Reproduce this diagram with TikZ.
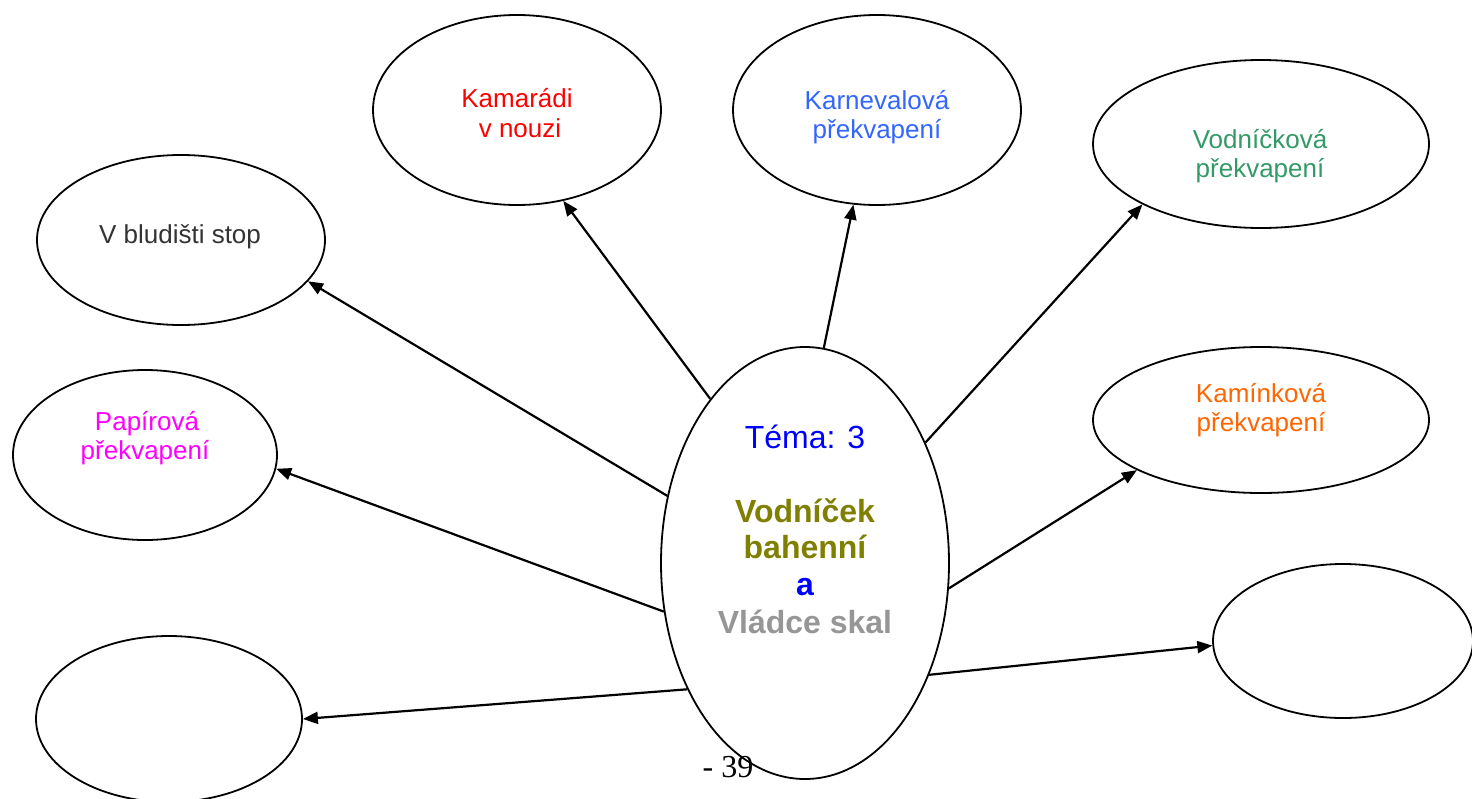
\documentclass[tikz,border=0pt]{standalone}
\usepackage{fontspec}
\setmainfont{Liberation Sans}
\newfontfamily\serifpage{Liberation Serif}
\usetikzlibrary{shapes.geometric,arrows.meta}
\definecolor{cRed}{HTML}{FF0000}
\definecolor{cKarn}{HTML}{3366FF}
\definecolor{cVodn}{HTML}{339966}
\definecolor{cDark}{HTML}{333333}
\definecolor{cMag}{HTML}{FF00FF}
\definecolor{cOrange}{HTML}{FF6600}
\definecolor{cBlue}{HTML}{0000FF}
\definecolor{cOlive}{HTML}{808000}
\definecolor{cGray}{HTML}{969696}
\tikzset{
  oval/.style={ellipse, draw=black, line width=1.8pt, inner sep=0pt},
  lbl/.style={anchor=base, inner sep=0pt, font=\fontsize{26}{30}\selectfont},
  big/.style={anchor=base, inner sep=0pt, font=\fontsize{32}{37}\selectfont},
  bigb/.style={anchor=base, inner sep=0pt, font=\fontsize{32}{37}\selectfont\bfseries},
  conn/.style={line width=2.2pt, -{Triangle[length=15pt,width=12pt]}}
}
\begin{document}
\begin{tikzpicture}[x=1pt,y=-1pt]
\useasboundingbox (0,0) rectangle (1472,798);
\fill[white] (0,0) rectangle (1472,798);

% page number (the central ellipse border passes over it)
\node[anchor=base, inner sep=0pt, font=\serifpage\fontsize{32}{36}\selectfont] (pg) at (728,777) {- 39};

% ellipses
\node[oval, minimum width=288pt, minimum height=432pt] (c) at (805,563) {};
\node[oval, minimum width=288pt, minimum height=190pt] (kam) at (517,110) {};
\node[oval, minimum width=288pt, minimum height=190pt] (karn) at (877,110) {};
\node[oval, minimum width=336pt, minimum height=168pt] (vodn) at (1261,144) {};
\node[oval, minimum width=288pt, minimum height=170pt] (blud) at (181,240) {};
\node[oval, minimum width=264pt, minimum height=170pt] (pap) at (145,455) {};
\node[oval, minimum width=336pt, minimum height=146pt] (kamin) at (1261,420) {};
\node[oval, minimum width=260pt, minimum height=154pt] (br) at (1343,641) {};
\node[oval, minimum width=266pt, minimum height=166pt] (bl) at (169,719) {};

% texts
\node[lbl, text=cRed] (t1a) at (517,107) {Kamarádi};
\node[lbl, text=cRed] (t1b) at (520,137) {v nouzi};
\node[lbl, text=cKarn] (t2a) at (877,109) {Karnevalová};
\node[lbl, text=cKarn] (t2b) at (877,138) {překvapení};
\node[lbl, text=cVodn] (t3a) at (1260,148) {Vodníčková};
\node[lbl, text=cVodn] (t3b) at (1260,177) {překvapení};
\node[lbl, text=cDark] (t4) at (180,243) {V bludišti stop};
\node[lbl, text=cMag] (t5a) at (147,430) {Papírová};
\node[lbl, text=cMag] (t5b) at (145,459) {překvapení};
\node[lbl, text=cOrange] (t6a) at (1261,402) {Kamínková};
\node[lbl, text=cOrange] (t6b) at (1261,431) {překvapení};

\node[big, text=cBlue] (ct1) at (805,448) {Téma: 3};
\node[bigb, text=cOlive] (ct2) at (805,522) {Vodníček};
\node[bigb, text=cOlive] (ct3) at (805,558) {bahenní};
\node[bigb, text=cBlue] (ct4) at (805,595) {a};
\node[bigb, text=cGray] (ct5) at (805,633) {Vládce skal};

% connectors
\draw[conn] (c.120) -- (kam.297);
\draw[conn] (c.85) -- (karn.256);
\draw[conn] (c.45) -- (vodn.207.5);
\draw[conn] (c.154) -- (blud.342.7);
\draw[conn] (c.199) -- (pap.354.4);
\draw[conn] (c.350.2) -- (kamin.202.5);
\draw[conn] (c.318.3) -- (br.182.6);
\draw[conn] (c.227.5) -- (bl.0.4);
\end{tikzpicture}
\end{document}
